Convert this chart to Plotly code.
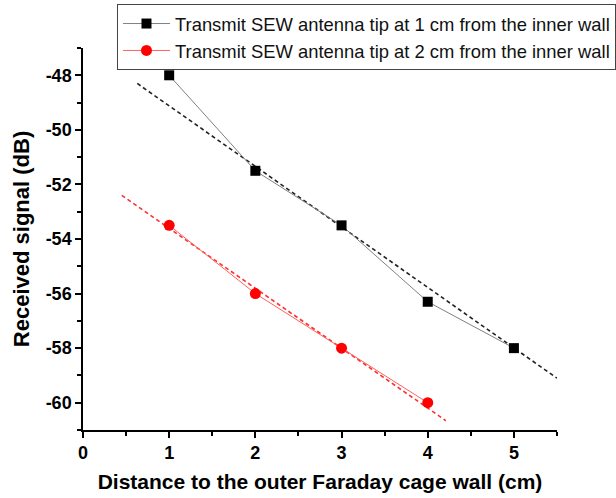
import plotly.graph_objects as go

# Data
dist1 = [1, 2, 3, 4, 5]
sig1 = [-48.0, -51.5, -53.5, -56.3, -58.0]
dist2 = [1, 2, 3, 4]
sig2 = [-53.5, -56.0, -58.0, -60.0]

# Linear-fit dashed lines (end points)
fit1_x = [0.63, 5.5]
fit1_y = [-48.3, -59.1]
fit2_x = [0.45, 4.21]
fit2_y = [-52.4, -60.66]

# Tick labels
y_tickvals = [-48, -50, -52, -54, -56, -58, -60]
y_ticktext = ["-48", "-50", "-52", "-54", "-56", "-58", "-60"]

name1 = "Transmit SEW antenna tip at 1 cm from the inner wall"
name2 = "Transmit SEW antenna tip at 2 cm from the inner wall"

FONT = "Liberation Sans, Arial, sans-serif"

fig = go.Figure()
fig.add_trace(go.Scatter(x=fit1_x, y=fit1_y, mode="lines", showlegend=False,
                         line=dict(color="#222222", width=1.6, dash="4px,3px"),
                         hoverinfo="skip"))
fig.add_trace(go.Scatter(x=fit2_x, y=fit2_y, mode="lines", showlegend=False,
                         line=dict(color="#ff3030", width=1.6, dash="4px,3px"),
                         hoverinfo="skip"))
fig.add_trace(go.Scatter(x=dist1, y=sig1, mode="lines+markers", name=name1,
                         line=dict(color="#808080", width=1),
                         marker=dict(symbol="square", size=10, color="black")))
fig.add_trace(go.Scatter(x=dist2, y=sig2, mode="lines+markers", name=name2,
                         line=dict(color="#ff6060", width=1),
                         marker=dict(symbol="circle", size=11, color="#ff0000")))

axis_common = dict(
    showline=True, linecolor="black", linewidth=1.5,
    ticks="outside", ticklen=6, tickwidth=1.5, tickcolor="black",
    showgrid=False, zeroline=False, mirror=False,
    tickfont=dict(family=FONT, size=18, color="black", weight="bold"),
)

fig.update_layout(
    width=616, height=498,
    margin=dict(l=83, r=59, t=48, b=68, autoexpand=False),
    paper_bgcolor="white", plot_bgcolor="white",
    font=dict(family=FONT, color="black"),
    xaxis=dict(range=[0, 5.5], dtick=1, tick0=0,
               minor=dict(dtick=0.5, ticks="outside", ticklen=4, tickwidth=1.5, tickcolor="black"),
               title=dict(text="Distance to the outer Faraday cage wall (cm)",
                          font=dict(family=FONT, size=21, weight="bold"), standoff=12),
               **axis_common),
    yaxis=dict(range=[-61, -47], tickmode="array", tickvals=y_tickvals, ticktext=y_ticktext,
               minor=dict(dtick=1, tick0=-61, ticks="outside", ticklen=4, tickwidth=1.5, tickcolor="black"),
               title=dict(text="Received signal (dB)",
                          font=dict(family=FONT, size=22, weight="bold"), standoff=10),
               **axis_common),
    legend=dict(x=0.0717, y=1.115, xanchor="left", yanchor="top",
                bgcolor="white", bordercolor="#444444", borderwidth=1,
                font=dict(family=FONT, size=18.4, color="#111111"),
                tracegroupgap=0, itemwidth=47),
)

fig.write_html("out.html", config={"displayModeBar": False},
               post_script="document.body.style.margin='0';document.body.style.padding='0';")
